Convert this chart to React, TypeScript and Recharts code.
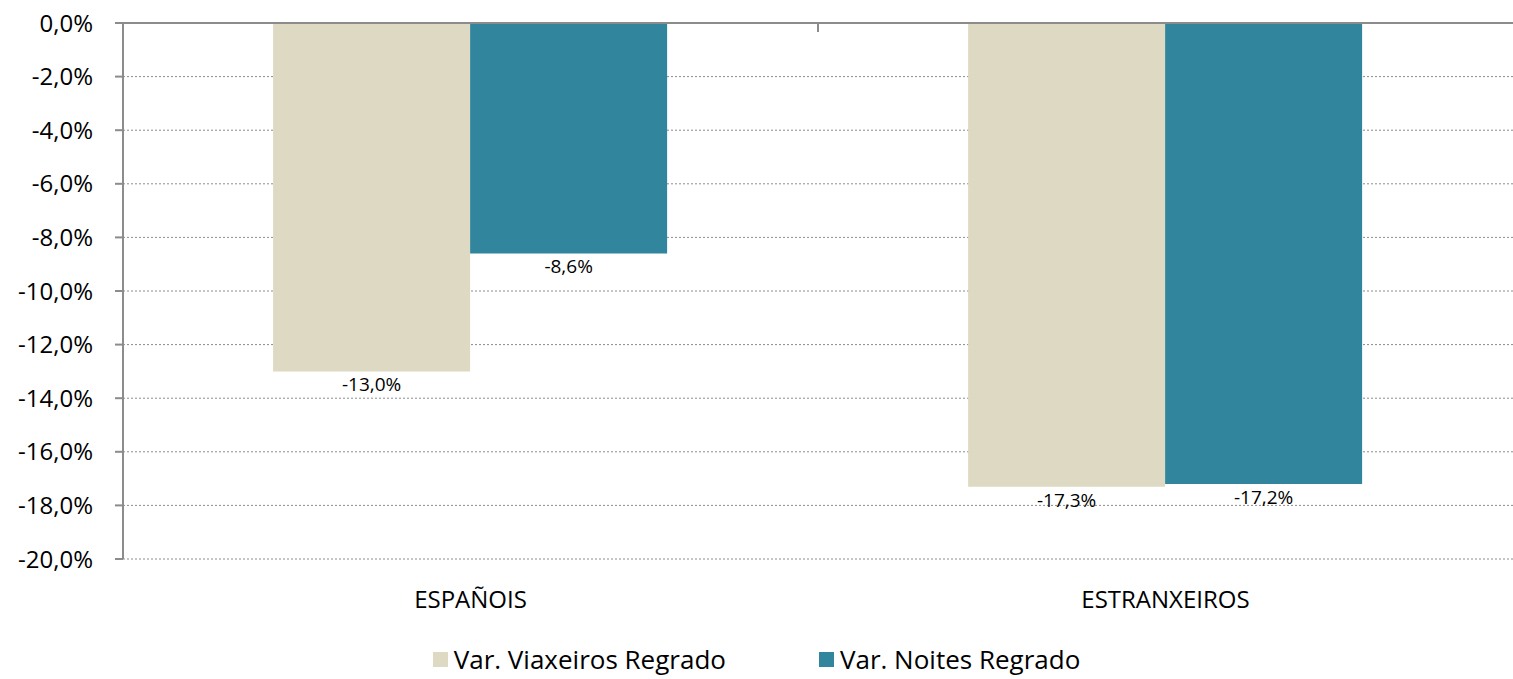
import { BarChart, Bar, XAxis, YAxis, CartesianGrid, LabelList, Legend, ReferenceLine } from 'recharts';

const categories = ['ESPAÑOIS', 'ESTRANXEIROS'];
const viaxeiros = [-13.0, -17.3];
const noites = [-8.6, -17.2];
const yTicks = [0, -2, -4, -6, -8, -10, -12, -14, -16, -18, -20];

const seriesNames = ['Var. Viaxeiros Regrado', 'Var. Noites Regrado'];
const seriesColors = ['#DDD9C3', '#31859C'];

const data = categories.map((name, i) => ({
  name,
  viaxeiros: viaxeiros[i],
  noites: noites[i],
}));

const FONT = '"Open Sans", sans-serif';

const fmt = (v: number) => v.toFixed(1).replace('.', ',') + '%';

const BarLabel = (props: any) => {
  const { x, y, width, height, value } = props;
  const bottom = Math.max(y, y + height);
  return (
    <text
      x={x + width / 2}
      y={bottom + 4}
      textAnchor="middle"
      dominantBaseline="hanging"
      fontSize={19}
      fontFamily={FONT}
      fill="#000"
    >
      {fmt(value)}
    </text>
  );
};

// tick mark between the categories, hanging down from the top axis line
const BoundaryTick = (props: any) => {
  const { x, y, index, payload } = props;
  if (index !== 0) return null;
  const half = payload?.offset ?? 0;
  return <line x1={x + half} x2={x + half} y1={y} y2={y + 9} stroke="#8c8c8c" strokeWidth={2} />;
};

const LegendContent = () => (
  <div
    style={{
      height: 60,
      display: 'flex',
      justifyContent: 'center',
      alignItems: 'flex-end',
      gap: 93,
      paddingBottom: 2,
      boxSizing: 'border-box',
      fontFamily: FONT,
      fontSize: 26,
      color: '#000',
    }}
  >
    {seriesNames.map((n, i) => (
      <div key={n} style={{ display: 'flex', alignItems: 'center' }}>
        <span style={{ width: 15, height: 15, background: seriesColors[i], marginRight: 6 }} />
        <span>{n}</span>
      </div>
    ))}
  </div>
);

export default function App() {
  return (
    <div style={{ position: 'absolute', left: 0, top: 0, background: '#fff' }}>
      <BarChart
        width={1513}
        height={679}
        data={data}
        margin={{ top: 22, right: 0, bottom: 0, left: 0 }}
        barCategoryGap="21.6%"
        barGap={0}
      >
        <CartesianGrid vertical={false} stroke="#8c8c8c" strokeDasharray="2 2" />
        <XAxis
          xAxisId="cat"
          dataKey="name"
          axisLine={false}
          tickLine={false}
          height={60}
          tickMargin={26}
          tick={{ fontSize: 24, fontFamily: FONT, fill: '#000' }}
        />
        <XAxis
          xAxisId="top"
          dataKey="name"
          orientation="top"
          height={1}
          axisLine={false}
          tickLine={false}
          tickSize={0}
          tickMargin={0}
          tick={<BoundaryTick />}
        />
        <YAxis
          domain={[-20, 0]}
          ticks={yTicks}
          width={123}
          tickSize={8}
          tickMargin={22}
          tickFormatter={fmt}
          stroke="#8c8c8c"
          strokeWidth={2}
          tick={{ fontSize: 24, fontFamily: FONT, fill: '#000' }}
          interval={0}
        />
        <Legend verticalAlign="bottom" content={<LegendContent />} />
        <Bar xAxisId="cat" dataKey="viaxeiros" fill={seriesColors[0]} isAnimationActive={false}>
          <LabelList dataKey="viaxeiros" content={<BarLabel />} />
        </Bar>
        <Bar xAxisId="cat" dataKey="noites" fill={seriesColors[1]} isAnimationActive={false}>
          <LabelList dataKey="noites" content={<BarLabel />} />
        </Bar>
        <ReferenceLine xAxisId="cat" y={0} stroke="#8c8c8c" strokeWidth={2} />
      </BarChart>
    </div>
  );
}
